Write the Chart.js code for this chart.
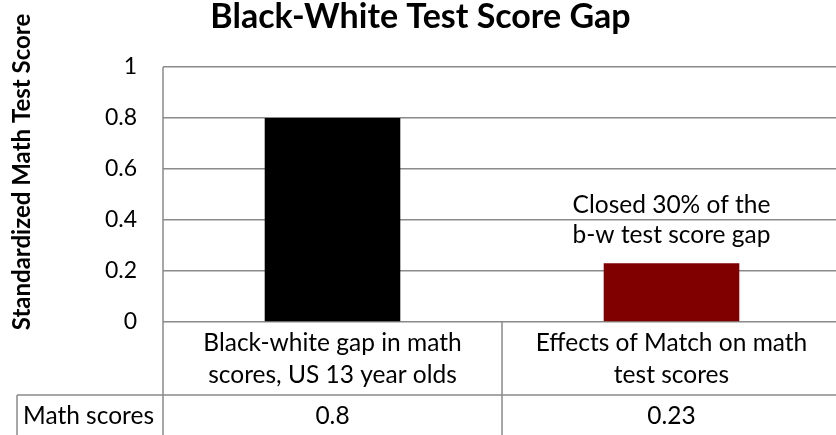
<!DOCTYPE html>
<html>
<head>
<meta charset="utf-8">
<script src="https://cdn.jsdelivr.net/npm/chart.js@4"></script>
<style>
  html, body { margin: 0; padding: 0; background: #fff; overflow: hidden; }
  #wrap { width: 836px; height: 435px; overflow: hidden; }
  #chart { display: block; }
</style>
</head>
<body>
<div id="wrap"><canvas id="chart" width="846" height="445"></canvas></div>
<script>
const categories = [
  ['Black-white gap in math', 'scores, US 13 year olds'],
  ['Effects of Match on math', 'test scores']
];
const seriesName = 'Math scores';
const mathScores = [0.8, 0.23];
const barColors = ['#000000', '#800000'];
const yTicks = [0, 0.2, 0.4, 0.6, 0.8, 1];
const noteLines = ['Closed 30% of the', 'b-w test score gap'];

const FONT = 'Lato, "Open Sans", sans-serif';
const LINE = '#8a8a8a';
const TEXT_SIZE = 24.5;

// draws the axis title, the data table under the bars and the note over the second bar
const tablePlugin = {
  id: 'dataTable',
  afterDraw(chart) {
    const ctx = chart.ctx;
    const area = chart.chartArea;
    const x = chart.scales.x;
    const bottom = chart.height;
    const rowTop = area.bottom + 73;

    ctx.save();
    ctx.strokeStyle = LINE;
    ctx.lineWidth = 1.5;
    ctx.beginPath();
    // left edge of plot, runs through the table
    ctx.moveTo(area.left, area.top);
    ctx.lineTo(area.left, bottom);
    // divider between categories
    for (let i = 0; i < categories.length - 1; i++) {
      const xb = (x.getPixelForValue(i) + x.getPixelForValue(i + 1)) / 2;
      ctx.moveTo(xb, area.bottom);
      ctx.lineTo(xb, bottom);
    }
    ctx.moveTo(area.right, area.top);
    ctx.lineTo(area.right, bottom);
    // series row
    ctx.moveTo(17, rowTop);
    ctx.lineTo(area.right, rowTop);
    ctx.moveTo(17, rowTop);
    ctx.lineTo(17, bottom);
    ctx.moveTo(17, rowTop + 42);
    ctx.lineTo(area.right, rowTop + 42);
    ctx.stroke();

    ctx.fillStyle = '#000';
    ctx.font = TEXT_SIZE + 'px ' + FONT;
    ctx.textBaseline = 'middle';
    ctx.textAlign = 'left';
    ctx.fillText(seriesName, 23, rowTop + 21);
    ctx.textAlign = 'center';
    mathScores.forEach((v, i) => {
      ctx.fillText(String(v), x.getPixelForValue(i), rowTop + 21);
    });

    // note above the second bar
    const bar = chart.getDatasetMeta(0).data[1];
    ctx.fillText(noteLines[0], bar.x, bar.y - 58);
    ctx.fillText(noteLines[1], bar.x, bar.y - 28);

    // rotated y axis title
    ctx.font = 'bold 24px ' + FONT;
    ctx.translate(22, 172);
    ctx.rotate(-Math.PI / 2);
    ctx.fillText('Standardized Math Test Score', 0, 0);
    ctx.restore();
  }
};

new Chart(document.getElementById('chart'), {
  type: 'bar',
  data: {
    labels: categories,
    datasets: [{
      label: seriesName,
      data: mathScores,
      backgroundColor: barColors,
      borderWidth: 0,
      categoryPercentage: 1,
      barPercentage: 0.4
    }]
  },
  options: {
    responsive: false,
    animation: false,
    layout: { padding: { left: 0, right: 5, top: 0, bottom: 0 } },
    plugins: {
      legend: { display: false },
      tooltip: { enabled: false },
      title: {
        display: true,
        text: 'Black-White Test Score Gap',
        color: '#000',
        font: { family: FONT, size: 34, weight: 'bold', lineHeight: 1 },
        padding: { top: 0, bottom: 33 }
      }
    },
    scales: {
      y: {
        min: 0,
        max: 1,
        afterFit(scale) { scale.width = 163; },
        afterBuildTicks(scale) { scale.ticks = yTicks.map(v => ({ value: v })); },
        ticks: {
          color: '#000',
          font: { family: FONT, size: 23 },
          padding: 26,
          callback: v => String(+v.toFixed(2))
        },
        grid: { color: LINE, lineWidth: 1.5, drawTicks: false },
        border: { display: false }
      },
      x: {
        afterFit(scale) { scale.height = 445 - 322; },
        ticks: {
          color: '#000',
          font: { family: FONT, size: TEXT_SIZE, lineHeight: 1.3 },
          padding: 5,
          autoSkip: false,
          maxRotation: 0
        },
        grid: { display: false, drawTicks: false },
        border: { display: false }
      }
    }
  },
  plugins: [tablePlugin]
});
</script>
</body>
</html>
